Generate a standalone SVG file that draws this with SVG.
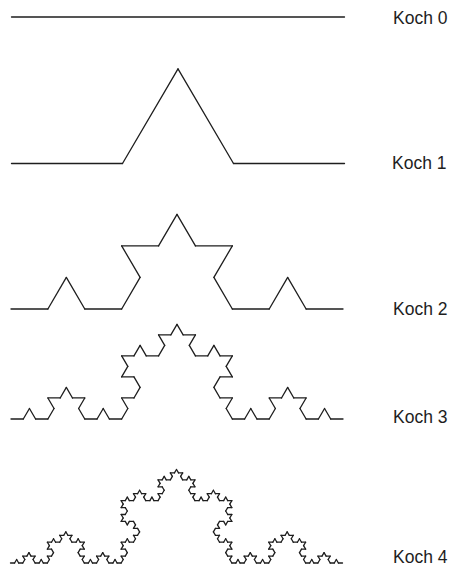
<svg xmlns="http://www.w3.org/2000/svg" xmlns:xlink="http://www.w3.org/1999/xlink" width="452" height="568" viewBox="0 0 452 568">
<style>
.seg{stroke:#1e1e1e;stroke-width:1.3;fill:none;stroke-linecap:round;vector-effect:non-scaling-stroke}
.lbl{font-family:"Liberation Sans",Arial,sans-serif;font-size:17.5px;fill:#1e1e1e}
</style>
<defs>
<g id="k0"><line class="seg" x1="0" y1="0" x2="1" y2="0" vector-effect="non-scaling-stroke"/></g>
<g id="k1">
<use href="#k0" transform="scale(0.333333)"/>
<use href="#k0" transform="translate(0.333333,0) rotate(-60) scale(0.333333)"/>
<use href="#k0" transform="translate(0.5,-0.288675) rotate(60) scale(0.333333)"/>
<use href="#k0" transform="translate(0.666667,0) scale(0.333333)"/>
</g>
<g id="k2">
<use href="#k1" transform="scale(0.333333)"/>
<use href="#k1" transform="translate(0.333333,0) rotate(-60) scale(0.333333)"/>
<use href="#k1" transform="translate(0.5,-0.288675) rotate(60) scale(0.333333)"/>
<use href="#k1" transform="translate(0.666667,0) scale(0.333333)"/>
</g>
<g id="k3">
<use href="#k2" transform="scale(0.333333)"/>
<use href="#k2" transform="translate(0.333333,0) rotate(-60) scale(0.333333)"/>
<use href="#k2" transform="translate(0.5,-0.288675) rotate(60) scale(0.333333)"/>
<use href="#k2" transform="translate(0.666667,0) scale(0.333333)"/>
</g>
<g id="k4">
<use href="#k3" transform="scale(0.333333)"/>
<use href="#k3" transform="translate(0.333333,0) rotate(-60) scale(0.333333)"/>
<use href="#k3" transform="translate(0.5,-0.288675) rotate(60) scale(0.333333)"/>
<use href="#k3" transform="translate(0.666667,0) scale(0.333333)"/>
</g>
</defs>
<g id="koch0">
<use href="#k0" transform="translate(11.5,17) scale(333,328)"/>
<text class="lbl" x="393" y="24">Koch 0</text>
</g>
<g id="koch1">
<use href="#k1" transform="translate(11.5,163.5) scale(333,328)"/>
<text class="lbl" x="392" y="168.5">Koch 1</text>
</g>
<g id="koch2">
<use href="#k2" transform="translate(11,309) scale(332,328)"/>
<text class="lbl" x="393" y="315">Koch 2</text>
</g>
<g id="koch3">
<use href="#k3" transform="translate(11,419) scale(332,328)"/>
<text class="lbl" x="393" y="423">Koch 3</text>
</g>
<g id="koch4">
<use href="#k4" transform="translate(10.5,563) scale(332,324)"/>
<text class="lbl" x="393" y="563">Koch 4</text>
</g>
</svg>
